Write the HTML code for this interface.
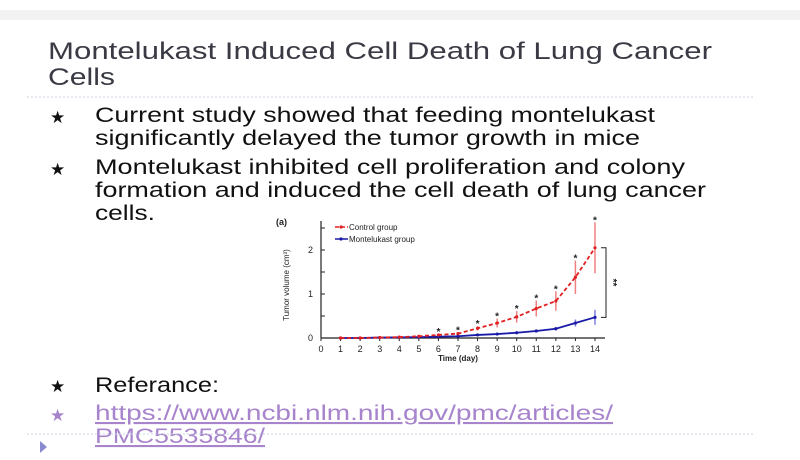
<!DOCTYPE html>
<html><head><meta charset="utf-8"><style>
html,body{margin:0;padding:0;background:#fff;}
svg{display:block;font-family:"Liberation Sans",sans-serif;}
</style></head><body>
<svg width="800" height="460" viewBox="0 0 800 460">
<rect x="0" y="0" width="800" height="460" fill="#fff"/>
<rect x="0" y="10" width="800" height="10" fill="#f2f2f3"/>
<text x="48" y="59" font-size="24" fill="#3a3a45" textLength="664" lengthAdjust="spacingAndGlyphs">Montelukast Induced Cell Death of Lung Cancer</text>
<text x="48" y="85" font-size="24" fill="#3a3a45" textLength="67" lengthAdjust="spacingAndGlyphs">Cells</text>
<line x1="27" y1="97" x2="755" y2="97" stroke="#c8d4e0" stroke-dasharray="2,2"/>
<g font-size="21" fill="#111">
<text x="50" y="123" font-size="17">★</text>
<text x="95" y="122" textLength="560" lengthAdjust="spacingAndGlyphs">Current study showed that feeding montelukast</text>
<text x="95" y="145" textLength="545" lengthAdjust="spacingAndGlyphs">significantly delayed the tumor growth in mice</text>
<text x="50" y="175" font-size="17">★</text>
<text x="95" y="174" textLength="590" lengthAdjust="spacingAndGlyphs">Montelukast inhibited cell proliferation and colony</text>
<text x="95" y="197" textLength="611" lengthAdjust="spacingAndGlyphs">formation and induced the cell death of lung cancer</text>
<text x="95" y="220" textLength="60" lengthAdjust="spacingAndGlyphs">cells.</text>
<text x="50" y="392" font-size="17">★</text>
<text x="95" y="392" textLength="124" lengthAdjust="spacingAndGlyphs">Referance:</text>
</g>
<text x="50" y="421" font-size="17" fill="#a784cc">★</text>
<text x="95" y="420" font-size="21" fill="#a784cc" text-decoration="underline" textLength="518" lengthAdjust="spacingAndGlyphs">https://www.ncbi.nlm.nih.gov/pmc/articles/</text>
<text x="95" y="443" font-size="21" fill="#a784cc" text-decoration="underline" textLength="170" lengthAdjust="spacingAndGlyphs">PMC5535846/</text>
<line x1="27" y1="434" x2="755" y2="434" stroke="#c8d4e0" stroke-dasharray="2,2"/>
<polygon points="40,441 40,453 47,447" fill="#8a8ad0"/>
<g id="chart"></g>
</svg>
<script>
const days=[1,2,3,4,5,6,7,8,9,10,11,12,13,14];
const controlVals=[0,0,0.01,0.02,0.04,0.07,0.1,0.22,0.34,0.48,0.67,0.84,1.38,2.05];
const controlErr=[0,0,0,0,0.01,0.02,0.03,0.05,0.1,0.13,0.18,0.22,0.38,0.58];
const montVals=[0,0,0.01,0.015,0.02,0.03,0.04,0.07,0.09,0.12,0.16,0.21,0.34,0.47];
const montErr=[0,0,0,0,0,0.01,0.01,0.02,0.02,0.02,0.03,0.04,0.08,0.17];
const xTicks=[0,1,2,3,4,5,6,7,8,9,10,11,12,13,14];
const yTicks=[0,1,2];
const NS="http://www.w3.org/2000/svg";
const g=document.getElementById('chart');
const X=d=>321+d*19.57, Y=v=>338-v*44;
function mk(t,a,p){const e=document.createElementNS(NS,t);for(const k in a)e.setAttribute(k,a[k]);(p||g).appendChild(e);return e;}
let e;
e=mk('line',{x1:321,y1:338,x2:605,y2:338,stroke:'#222','stroke-width':1.2});


e=mk('line',{x1:321,y1:221,x2:321,y2:338,stroke:'#222','stroke-width':1.2});


xTicks.forEach(t=>{
 e=mk('text',{x:X(t),y:352,'font-size':9,'text-anchor':'middle',fill:'#222'});e.textContent=t;
 
 
 mk('line',{x1:X(t),y1:338,x2:X(t),y2:341,stroke:'#222'});
});
[0,0.5,1,1.5,2,2.5].forEach(v=>mk('line',{x1:321,y1:Y(v),x2:325,y2:Y(v),stroke:'#222'}));
yTicks.forEach(t=>{
 e=mk('text',{x:313,y:Y(t)+3,'font-size':9,'text-anchor':'end',fill:'#222'});e.textContent=t;
 
 
});
e=mk('text',{x:458,y:361,'font-size':8,'font-weight':'bold','text-anchor':'middle',fill:'#222'});e.textContent='Time (day)';


e=mk('text',{x:0,y:0,'font-size':8,'text-anchor':'middle',fill:'#222',transform:'translate(289,285) rotate(-90)'});e.textContent='Tumor volume (cm³)';


e=mk('text',{x:276,y:225,'font-size':9,'font-weight':'bold',fill:'#222'});e.textContent='(a)';


function series(vals,err,col,dash,name,ecol){
 days.forEach((d,i)=>{if(err[i]>0){e=mk('line',{x1:X(d),y1:Y(vals[i]-err[i]),x2:X(d),y2:Y(vals[i]+err[i]),stroke:ecol,'stroke-width':1.5});
 
 }});
 e=mk('polyline',{points:days.map((d,i)=>X(d)+','+Y(vals[i])).join(' '),fill:'none',stroke:col,'stroke-width':1.8,'stroke-dasharray':dash});
 
 
 days.forEach((d,i)=>{e=mk('circle',{cx:X(d),cy:Y(vals[i]),r:1.6,fill:col});
 
 });
}
series(montVals,montErr,'#1a1aa8','none','montelukast','#8080e0');
series(controlVals,controlErr,'#e02020','4,2.5','control','#f08080');
days.forEach((d,i)=>{if(d>=6){e=mk('text',{x:X(d),y:Y(controlVals[i]+controlErr[i])+1,'font-size':10,'font-weight':'bold','text-anchor':'middle',fill:'#222'});e.textContent='*';
 
 }});
e=mk('path',{d:`M601,${Y(2.05)} H606 V${Y(0.47)} H601`,fill:'none',stroke:'#222','stroke-width':1});


e=mk('text',{x:0,y:0,'font-size':10,'font-weight':'bold',fill:'#222','text-anchor':'middle',transform:`translate(610,${Y(1.26)}) rotate(90)`});e.textContent='**';


[[227,'#e02020','4,2','Control group','legend-control'],[239,'#1a1aa8','none','Montelukast group','legend-montelukast']].forEach(([y,c,da,t,n])=>{
 e=mk('g',{});
 
 
 mk('line',{x1:335,y1:y,x2:348,y2:y,stroke:c,'stroke-width':1.5,'stroke-dasharray':da},e);
 mk('circle',{cx:341,cy:y,r:1.6,fill:c},e);
 const tx=mk('text',{x:349,y:y+3,'font-size':8,fill:'#222'},e);tx.textContent=t;
});
</script>
</body></html>
